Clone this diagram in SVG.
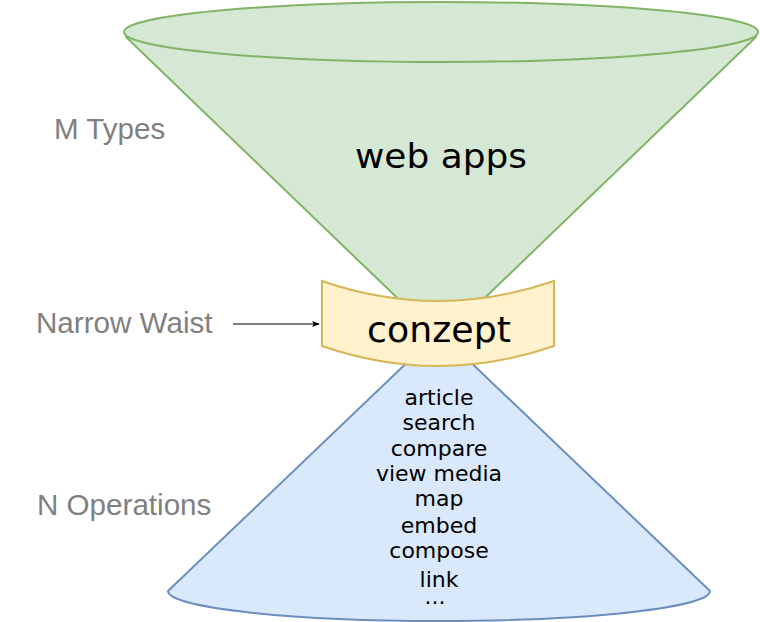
<svg xmlns="http://www.w3.org/2000/svg" width="760" height="622" viewBox="0 0 760 622">
  <style>
    .label { font-family: "Liberation Sans", Arial, Helvetica, sans-serif; font-size: 29.6px; fill: #808080; }
    .dark { font-family: "DejaVu Sans", Verdana, sans-serif; fill: #000000; text-anchor: middle; }
    .ops { font-size: 22px; }
    .green { fill: #d5e8d4; stroke: #82b366; stroke-width: 2; }
    .yellow { fill: #fff2cc; stroke: #d6b656; stroke-width: 2; }
    .blue { fill: #dae8fc; stroke: #6c8ebf; stroke-width: 2; }
  </style>
  <defs>
    <marker id="arrow" viewBox="0 0 10 10" refX="9" refY="5" markerWidth="8" markerHeight="8" markerUnits="userSpaceOnUse" orient="auto">
      <path d="M0,1 L10,5 L0,9 L2.5,5 Z" fill="#000000"/>
    </marker>
  </defs>
  <rect width="760" height="622" fill="#ffffff"/>

  <g id="web-apps">
    <path class="green" d="M126,37 L441,340 L756,37 Z" stroke-linejoin="round"/>
    <ellipse class="green" cx="441" cy="32" rx="317" ry="30"/>
    <text class="dark" x="441" y="168" font-size="34" textLength="172" lengthAdjust="spacingAndGlyphs">web apps</text>
  </g>

  <g id="operations">
    <path class="blue" d="M439,332 L168,591 A271,30 0 0 0 710,591 Z" stroke-linejoin="round"/>
    <g class="dark ops">
      <text x="439" y="404.5">article</text>
      <text x="439" y="430">search</text>
      <text x="439" y="456">compare</text>
      <text x="439" y="481">view media</text>
      <text x="439" y="506">map</text>
      <text x="439" y="532.5">embed</text>
      <text x="439" y="558">compose</text>
      <text x="439" y="587">link</text>
      <text x="435" y="604">...</text>
    </g>
  </g>

  <g id="conzept">
    <path class="yellow" d="M322,281 Q438,321 554,281 L554,346 Q438,386 322,346 Z"/>
    <text class="dark" x="439" y="341.5" font-size="36.3">conzept</text>
  </g>

  <g id="label-m-types">
    <text class="label" x="54" y="139">M Types</text>
  </g>
  <g id="label-narrow-waist">
    <text class="label" x="36" y="333">Narrow Waist</text>
  </g>
  <g id="label-n-operations">
    <text class="label" x="37" y="515">N Operations</text>
  </g>

  <g id="connectors">
    <line x1="233" y1="324" x2="319" y2="324" stroke="#000000" stroke-width="1.2" marker-end="url(#arrow)"/>
  </g>
</svg>
